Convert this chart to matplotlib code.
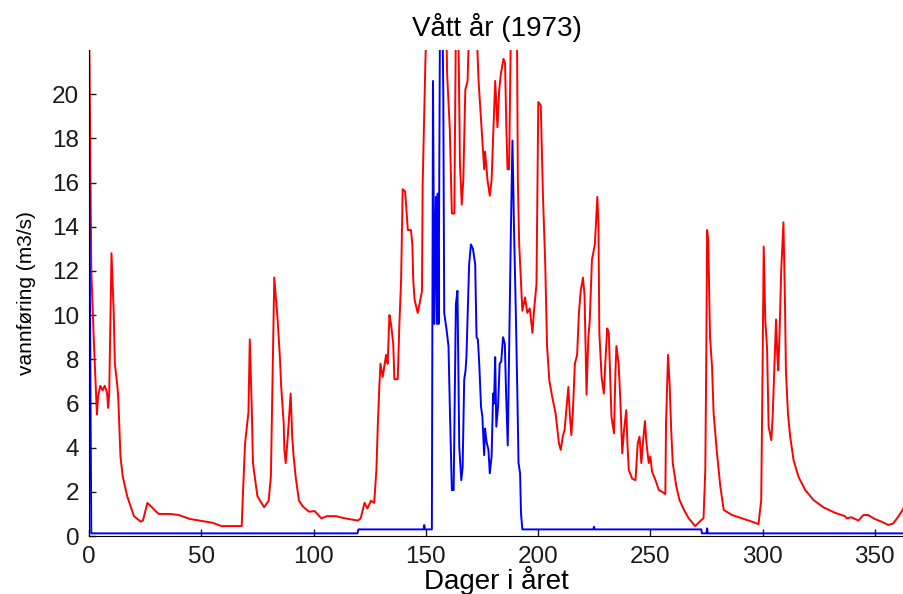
import matplotlib
matplotlib.use("Agg")
import matplotlib.pyplot as plt

plt.rcParams['font.family'] = ['Liberation Sans', 'DejaVu Sans']

# vannføring, rød kurve (dag, m3/s)
red_days = [0, 1, 2, 2.5, 3.5, 4, 5, 6, 7, 8, 8.5, 9, 10, 11, 11.5, 12.5, 13, 14, 15, 17,
            20, 23, 24, 26, 28, 31, 36, 40, 45, 51, 55, 59, 68, 68.5, 69.5, 71, 71.6, 72.5, 73, 75,
            78, 80, 81, 82.5, 84, 85, 85.6, 86.7, 87, 87.6, 88.6, 89.8, 90.5, 91, 92, 93.5, 95.3, 98, 100.5, 103.5,
            106, 110, 114, 119.7, 121, 122.7, 124, 125.6, 127, 128, 128.6, 129.3, 129.8, 130.8, 132.3, 133, 133.8, 134.5, 135.5, 136,
            137.5, 138.2, 139, 139.7, 140.8, 141.2, 142, 143.4, 144, 144.4, 145, 146.4, 147, 148.3, 148.6, 149.8, 150.8, 152, 156, 159,
            159.5, 160.7, 161.6, 162.7, 163.4, 164.5, 165.2, 166, 166.7, 167.6, 168.6, 169.3, 171, 172.6, 173.5, 174.9, 176, 176.4, 177.5, 178.5,
            179.3, 180.1, 180.9, 181.9, 182.7, 183.4, 184.6, 185.3, 185.9, 186.4, 187.1, 187.9, 189, 190.6, 191, 191.6, 193, 194.2, 195.2, 196.3,
            197.5, 198.2, 199.3, 200.1, 201.2, 202.2, 203.2, 204, 205, 206.3, 207.8, 209.3, 210.1, 211, 211.8, 213.5, 214.1, 214.8, 215.5, 216.4,
            217.4, 218.2, 219, 220, 220.7, 221.6, 222.4, 223, 224, 225.3, 226.4, 226.9, 227.3, 228.3, 229.3, 230.2, 230.8, 231.5, 232.7, 233.8,
            234.5, 234.9, 235.9, 236.7, 237.5, 238.3, 239.3, 239.8, 240.4, 241.9, 243.4, 244.4, 245.2, 246, 246.7, 247.6, 248.3, 249.3, 250, 250.8,
            252.3, 253.8, 255.3, 256.7, 257, 257.9, 258.6, 259.3, 260, 261.6, 263, 265, 267.1, 270, 272.7, 273.7, 274.5, 275, 275.3, 275.8,
            276.6, 277.5, 278.2, 279.7, 281.2, 282.7, 286.4, 290.8, 295.3, 298.2, 299.4, 300, 300.5, 301.2, 302, 302.7, 303.9, 304.5, 305.3, 306,
            306.6, 307, 307.6, 308.3, 309.3, 310, 310.4, 311.3, 312.3, 313.8, 316, 319, 322.7, 327.1, 332.3, 336.7, 337.5, 339.5, 342.7, 344.9,
            347, 350, 353, 356, 358.2, 360.4, 361.9, 363]
red_flow = [24, 12, 9.2, 8.0, 5.5, 6.3, 6.8, 6.6, 6.8, 6.5, 5.8, 6.5, 12.8, 10.1, 7.8, 6.9, 6.3, 3.6, 2.7, 1.8,
            0.9, 0.65, 0.7, 1.5, 1.3, 1.0, 1.0, 0.95, 0.77, 0.67, 0.6, 0.45, 0.45, 1.8, 4.2, 5.6, 8.9, 5.7, 3.3, 1.8,
            1.3, 1.6, 2.7, 11.7, 9.8, 8.1, 6.75, 5.1, 3.9, 3.3, 4.6, 6.45, 4.5, 3.75, 2.7, 1.6, 1.33, 1.1, 1.13, 0.8,
            0.9, 0.9, 0.8, 0.7, 0.8, 1.5, 1.25, 1.6, 1.5, 3.0, 4.95, 6.75, 7.8, 7.2, 8.2, 7.8, 10.0, 9.6, 8.7, 7.1,
            7.1, 9.5, 11.6, 15.7, 15.6, 15.0, 13.85, 13.85, 13.2, 11.6, 10.7, 10.1, 10.4, 11.1, 15.9, 21.4, 25, 28, 26, 24,
            20.9, 18.4, 14.6, 14.6, 23, 23, 16.9, 15.0, 16.1, 20.2, 20.6, 23, 26, 23, 20.6, 18.4, 16.6, 17.4, 16.1, 15.4,
            16.1, 18.4, 20.6, 18.5, 20.2, 20.9, 21.6, 21.4, 18.4, 16.6, 16.6, 23, 27, 23, 16.1, 13.2, 10.2, 10.8, 10.1, 10.3,
            9.2, 10.2, 11.4, 19.65, 19.5, 15.35, 12.3, 8.6, 7.06, 6.3, 5.55, 4.2, 3.9, 4.5, 4.8, 6.75, 5.6, 4.57, 5.6, 7.8,
            8.2, 10.1, 11.1, 11.7, 10.9, 6.4, 9.0, 9.7, 12.5, 13.2, 15.35, 14.1, 9.2, 7.2, 6.45, 8.3, 9.4, 9.2, 5.4, 4.65,
            7.5, 8.6, 7.8, 6.0, 3.74, 4.8, 5.7, 4.2, 3.0, 2.6, 2.53, 4.2, 4.5, 3.3, 4.2, 5.2, 4.2, 3.3, 3.6, 2.9,
            2.53, 2.08, 2.0, 1.9, 5.1, 8.2, 6.9, 4.8, 3.3, 2.23, 1.63, 1.18, 0.8, 0.45, 0.72, 0.8, 3.0, 9.0, 13.85, 13.4,
            9.0, 7.66, 5.55, 3.74, 2.23, 1.18, 0.95, 0.8, 0.65, 0.54, 1.63, 7.5, 13.1, 9.8, 8.5, 4.95, 4.34, 5.4, 7.8, 9.8,
            8.1, 7.5, 9.3, 12.0, 14.2, 10.5, 7.5, 5.55, 4.5, 3.44, 2.68, 2.08, 1.63, 1.3, 1.05, 0.9, 0.8, 0.85, 0.7, 0.95,
            0.95, 0.77, 0.65, 0.5, 0.57, 0.87, 1.1, 1.3]

# vannføring, blå kurve (dag, m3/s)
blue_days = [0, 1, 119.5, 120, 149, 149.3, 149.6, 152.7, 153.2, 153.8, 154.5, 155, 155.3, 155.7, 156.3, 157.5, 157.8, 158.2, 159.3, 160.1,
             160.7, 161.6, 162.4, 163.4, 164.1, 164.9, 165.8, 166.4, 167.1, 167.7, 168.1, 169.3, 170.1, 171, 172, 172.6, 173.2, 173.8, 174.6, 175.2,
             176, 176.4, 177, 177.9, 178.5, 179.3, 180, 180.4, 180.9, 181.4, 182.2, 182.9, 183.6, 184.4, 185.2, 185.8, 186.5, 187.2, 187.9, 188.6,
             189.3, 190.1, 190.8, 191.3, 192, 192.4, 193, 224.6, 224.9, 225.2, 272.7, 273, 275, 275.3, 275.6, 363]
blue_flow = [18, 0.12, 0.12, 0.3, 0.3, 0.5, 0.3, 0.3, 20.6, 9.6, 15.35, 9.6, 15.5, 9.6, 23, 23, 19.9, 10.1, 9.3, 8.6,
             5.85, 2.08, 2.08, 10.5, 11.1, 4.04, 2.53, 3.1, 7.06, 7.5, 8.1, 12.3, 13.2, 13.0, 12.3, 9.0, 8.9, 7.8, 5.85, 5.4,
             3.66, 4.87, 4.3, 3.9, 2.84, 3.6, 6.45, 6.0, 8.1, 4.95, 5.9, 7.8, 7.9, 9.0, 8.7, 6.3, 4.1, 9.0, 13.85, 17.9,
             13.85, 10.1, 6.3, 3.3, 2.84, 1.03, 0.3, 0.3, 0.42, 0.3, 0.3, 0.12, 0.12, 0.35, 0.12, 0.12]

fig = plt.figure(figsize=(9.04, 5.94), dpi=100)
ax = fig.add_axes([0.0985, 0.0976, 0.9015, 0.8182])

ax.plot(red_days, red_flow, color='#ff0000', lw=1.4)
ax.plot(blue_days, blue_flow, color='#0000ff', lw=1.4)

ax.set_xlim(0, 363)
ax.set_ylim(0, 22)
ax.set_xticks(range(0, 351, 50))
ax.set_yticks(range(0, 21, 2))
ax.tick_params(direction='in', length=5, width=1, labelsize=17.5, pad=7, colors='#1a1a1a')
ax.spines['top'].set_visible(False)
ax.spines['right'].set_visible(False)

ax.set_title('Vått år (1973)', fontsize=20, pad=10)
ax.set_xlabel('Dager i året', fontsize=20, labelpad=-1)
ax.set_ylabel('vannføring (m3/s)', fontsize=15, labelpad=12)

fig.savefig('out.png', dpi=100)
